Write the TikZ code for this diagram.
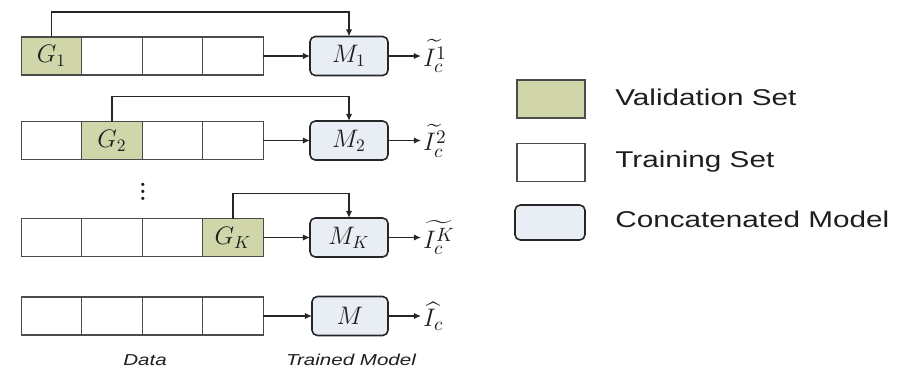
\documentclass[tikz,border=0pt]{standalone}
\usepackage{fontspec}
\usepackage{amsmath}
\newfontfamily\legendfont[FakeStretch=1.3]{Liberation Sans}
\usetikzlibrary{positioning,arrows.meta}

\definecolor{valgreen}{RGB}{208,214,170}
\definecolor{modelblue}{RGB}{232,238,243}
\definecolor{edgegray}{RGB}{75,75,75}
\definecolor{inkgray}{RGB}{30,30,30}

\tikzset{
  cell/.style={draw=edgegray, line width=0.8pt, minimum width=1.21cm, minimum height=0.76cm,
    inner sep=0pt, outer sep=0pt, font=\fontsize{14}{16}\selectfont, text=inkgray},
  valcell/.style={cell, fill=valgreen},
  model/.style={draw=black!85, line width=0.9pt, rounded corners=3pt, fill=modelblue,
    minimum width=1.56cm, minimum height=0.78cm, inner sep=0pt, outer sep=0pt,
    font=\fontsize{14}{16}\selectfont, text=inkgray},
  outlabel/.style={anchor=west, inner sep=1pt, font=\fontsize{15}{17}\selectfont, text=inkgray},
  legendtext/.style={anchor=base west, inner sep=0pt, font=\legendfont\fontsize{13}{15}\selectfont, text=inkgray},
  caption/.style={anchor=base, inner sep=0pt, font=\legendfont\itshape\fontsize{9}{11}\selectfont, text=inkgray},
  flow/.style={-{Latex[length=4pt,width=3.5pt]}, line width=0.7pt, black!85},
}

\begin{document}
\begin{tikzpicture}[x=0.02cm,y=-0.02cm]
  \useasboundingbox (0,0) rectangle (907,376);

  % fold 1
  \node[valcell] (g1) at (51.5,56) {$G_1$};
  \node[cell, right=0pt of g1] (r1b) {};
  \node[cell, right=0pt of r1b] (r1c) {};
  \node[cell, right=0pt of r1c] (r1d) {};
  \node[model] (m1) at (349,56) {$M_1$};
  \node[outlabel] (o1) at (421,56) {$\widetilde{I_c^{1}}$};

  % fold 2
  \node[cell] (r2a) at (51.5,140.5) {};
  \node[valcell, right=0pt of r2a] (g2) {$G_2$};
  \node[cell, right=0pt of g2] (r2c) {};
  \node[cell, right=0pt of r2c] (r2d) {};
  \node[model] (m2) at (349,140.5) {$M_2$};
  \node[outlabel] (o2) at (421,140.5) {$\widetilde{I_c^{2}}$};

  \node[font=\bfseries\fontsize{13}{15}\selectfont, text=inkgray] (dots) at (143,187) {$\vdots$};

  % fold K
  \node[cell] (rka) at (51.5,237.5) {};
  \node[cell, right=0pt of rka] (rkb) {};
  \node[cell, right=0pt of rkb] (rkc) {};
  \node[valcell, right=0pt of rkc] (gk) {$G_K$};
  \node[model] (mk) at (349,237.5) {$M_K$};
  \node[outlabel] (ok) at (421,237.5) {$\widetilde{I_c^{K}}$};

  % full training
  \node[cell] (rma) at (51.5,316) {};
  \node[cell, right=0pt of rma] (rmb) {};
  \node[cell, right=0pt of rmb] (rmc) {};
  \node[cell, right=0pt of rmc] (rmd) {};
  \node[model, minimum width=1.52cm] (mm) at (350,316) {$M$};
  \node[outlabel] (om) at (421,316) {$\widehat{I_c}$};

  % connectors
  \draw[flow] (r1d) -- (m1);
  \draw[flow] (m1) -- (o1);
  \draw[flow] (g1.north) -- ++(0,-25) -| (m1.north);
  \draw[flow] (r2d) -- (m2);
  \draw[flow] (m2) -- (o2);
  \draw[flow] (g2.north) -- ++(0,-25) -| (m2.north);
  \draw[flow] (gk) -- (mk);
  \draw[flow] (mk) -- (ok);
  \draw[flow] (gk.north) -- ++(0,-25) -| (mk.north);
  \draw[flow] (rmd) -- (mm);
  \draw[flow] (mm) -- (om);

  \node[caption] (datalbl) at (145,365) {Data};
  \node[caption] (modellbl) at (351,365) {Trained Model};

  % legend
  \node[valcell, minimum width=1.36cm] (legval) at (551,99) {};
  \node[cell, minimum width=1.36cm] (legtrain) at (551,162.5) {};
  \node[model, minimum width=1.4cm, minimum height=0.7cm] (legmodel) at (550,222.5) {};
  \node[legendtext] (txtval) at (615,105) {Validation Set};
  \node[legendtext] (txttrain) at (615,167) {Training Set};
  \node[legendtext] (txtmodel) at (615,227) {Concatenated Model};
\end{tikzpicture}
\end{document}
